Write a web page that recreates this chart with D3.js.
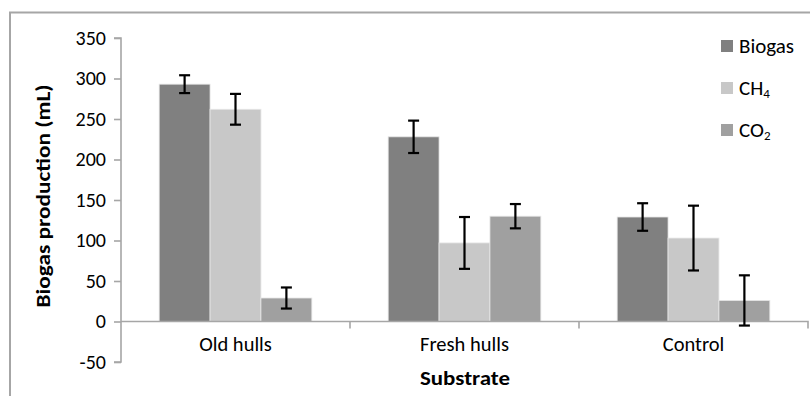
<!DOCTYPE html>
<html><head><meta charset="utf-8">
<script src="https://cdn.jsdelivr.net/npm/d3@7"></script>
<style>
html,body{margin:0;padding:0;background:#fff;}
svg{display:block;font-family:Carlito,Lato,"Open Sans",sans-serif;}
</style></head>
<body>
<script>
const categories = ["Old hulls", "Fresh hulls", "Control"];
const seriesNames = ["Biogas", "CH4", "CO2"];
const biogas = [293, 228, 129];
const ch4 = [262, 97, 103];
const co2 = [29, 130, 26];
const biogasErr = [11, 20, 17];
const ch4Err = [19, 32, 40];
const co2Err = [13, 15, 31];
const yTicks = [-50, 0, 50, 100, 150, 200, 250, 300, 350];
const colors = ["#808080", "#c8c8c8", "#a0a0a0"];

const values = [biogas, ch4, co2];
const errs = [biogasErr, ch4Err, co2Err];

const W = 811, H = 396;
const FONT = "Carlito,Lato,sans-serif";
const svg = d3.select("body").append("svg").attr("width", W).attr("height", H);

// outer border (top & left visible)
svg.append("path").attr("d", "M10,396 V12.5 H810").attr("fill", "none")
  .attr("stroke", "#a6a6a6").attr("stroke-width", 2);

const x0 = 121, x1 = 808;
const y = d3.scaleLinear().domain([-50, 350]).range([362, 38]);
const x = d3.scaleBand().domain(categories).range([x0, x1]).paddingInner(0).paddingOuter(0);
const xs = d3.scaleBand().domain(seriesNames).range([0, x.bandwidth()]).paddingInner(0).paddingOuter(0.75);

// bars
seriesNames.forEach((s, si) => {
  const g = svg.append("g");
  categories.forEach((c, ci) => {
    const v = values[si][ci];
    g.append("rect")
      .attr("x", x(c) + xs(s))
      .attr("y", y(Math.max(0, v)))
      .attr("width", xs.bandwidth())
      .attr("height", Math.abs(y(v) - y(0)))
      .attr("fill", colors[si])
      .attr("stroke", "#e6e6e6").attr("stroke-width", 0.8);
  });
});

// y axis
const yAxis = d3.axisLeft(y).tickValues(yTicks).tickSize(7).tickPadding(8).tickFormat(d => String(d));
const ya = svg.append("g").attr("transform", `translate(${x0},0)`).call(yAxis);
ya.select(".domain").attr("stroke", "#a6a6a6").attr("stroke-width", 1.6).attr("d", `M-7,${y(350)}H0V${y(-50)}H-7`);
ya.selectAll(".tick line").attr("stroke", "#a6a6a6").attr("stroke-width", 1.6);
ya.selectAll(".tick text").attr("font-size", 20).attr("fill", "#000").attr("font-family", FONT);

// x axis at zero
const xAxis = d3.axisBottom(x).tickSize(0).tickPadding(15);
const xa = svg.append("g").attr("transform", `translate(0,${y(0)})`).call(xAxis);
xa.select(".domain").attr("stroke", "#a6a6a6").attr("stroke-width", 1.6).attr("d", `M${x0},0H${x1}V7`);
xa.selectAll(".tick text").attr("font-size", 20.5).attr("fill", "#000").attr("font-family", FONT);
// category separators
svg.append("g").selectAll("line").data(categories.slice(1)).join("line")
  .attr("x1", d => x(d)).attr("x2", d => x(d))
  .attr("y1", y(0)).attr("y2", y(0) + 7)
  .attr("stroke", "#a6a6a6").attr("stroke-width", 1.6);

// error bars
seriesNames.forEach((s, si) => {
  categories.forEach((c, ci) => {
    const cx = x(c) + xs(s) + xs.bandwidth() / 2;
    const v = values[si][ci], e = errs[si][ci];
    const g = svg.append("g").attr("stroke", "#000").attr("stroke-width", 2.2);
    g.append("line").attr("x1", cx).attr("x2", cx).attr("y1", y(v + e)).attr("y2", y(v - e));
    g.append("line").attr("x1", cx - 5.5).attr("x2", cx + 5.5).attr("y1", y(v + e)).attr("y2", y(v + e));
    g.append("line").attr("x1", cx - 5.5).attr("x2", cx + 5.5).attr("y1", y(v - e)).attr("y2", y(v - e));
  });
});

// axis titles
svg.append("text").attr("transform", `translate(50,196) rotate(-90)`)
  .attr("text-anchor", "middle").attr("font-size", 21).attr("font-weight", "bold")
  .attr("textLength", 223).attr("lengthAdjust", "spacingAndGlyphs")
  .text("Biogas production (mL)");
svg.append("text").attr("x", 465).attr("y", 385)
  .attr("text-anchor", "middle").attr("font-size", 21).attr("font-weight", "bold")
  .attr("textLength", 90).attr("lengthAdjust", "spacingAndGlyphs")
  .text("Substrate");

// legend
const legendY = [46, 88, 130];
const lg = svg.append("g");
seriesNames.forEach((s, si) => {
  lg.append("rect").attr("x", 721).attr("y", legendY[si] - 6).attr("width", 12).attr("height", 12).attr("fill", colors[si]);
  const t = lg.append("text").attr("x", 739).attr("y", legendY[si] + 7).attr("font-size", 21);
  if (s === "Biogas") t.text("Biogas");
  else {
    t.append("tspan").text(s.slice(0, 2));
    t.append("tspan").attr("font-size", 13).attr("dy", 3).text(s.slice(2));
  }
});
</script>
</body></html>
